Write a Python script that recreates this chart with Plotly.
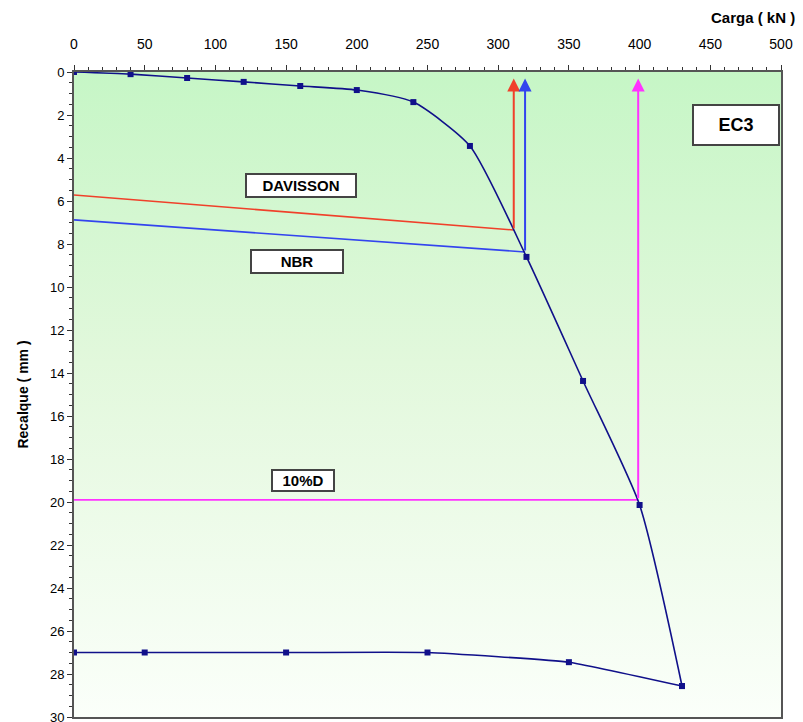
import plotly.graph_objects as go

# Load test data
carga_load = [0, 40, 80, 120, 160, 200, 240, 280, 320, 360, 400, 430]
recalque_load = [0, 0.1, 0.28, 0.46, 0.65, 0.84, 1.4, 3.44, 8.6, 14.37, 20.14, 28.56]
carga_unload = [430, 350, 250, 150, 50, 0]
recalque_unload = [28.56, 27.45, 27.0, 27.0, 27.0, 27.0]

# Criteria lines
davisson_x = [0, 311]
davisson_y = [5.72, 7.35]
nbr_x = [0, 319]
nbr_y = [6.88, 8.37]
d10_x = [0, 399]
d10_y = [19.9, 19.9]
arrow_top = 0.3

x_ticks = list(range(0, 501, 50))
y_ticks = list(range(0, 31, 2))

navy = "#10108a"
red = "#f0402a"
blue = "#3344ee"
magenta = "#ff33ff"

fig = go.Figure()

# gradient background
fig.add_trace(go.Scatter(
    x=[0, 500, 500, 0, 0], y=[0, 0, 30, 30, 0], mode="lines",
    line=dict(width=0), fill="toself", hoverinfo="skip", showlegend=False,
    fillgradient=dict(type="vertical", start=0, stop=30,
                      colorscale=[[0, "#c6f6c6"], [0.45, "#e2f8dc"], [1, "#fbfffa"]]),
))

for xs, ys, c in [(davisson_x, davisson_y, red), (nbr_x, nbr_y, blue), (d10_x, d10_y, magenta)]:
    fig.add_trace(go.Scatter(x=xs, y=ys, mode="lines", line=dict(color=c, width=1.6),
                             showlegend=False, hoverinfo="skip"))

fig.add_trace(go.Scatter(x=carga_load, y=recalque_load, mode="lines+markers",
                         line=dict(color=navy, width=1.6, shape="spline", smoothing=0.6),
                         marker=dict(symbol="square", size=6, color=navy), showlegend=False))
fig.add_trace(go.Scatter(x=carga_unload, y=recalque_unload, mode="lines+markers",
                         line=dict(color=navy, width=1.6, shape="spline", smoothing=0.35),
                         marker=dict(symbol="square", size=6, color=navy), showlegend=False))

# vertical arrows
for xs, ys, c in [(davisson_x, davisson_y, red), (nbr_x, nbr_y, blue), (d10_x, d10_y, magenta)]:
    fig.add_annotation(x=xs[-1], y=arrow_top, ax=xs[-1], ay=ys[-1], xref="x", yref="y",
                       axref="x", ayref="y", showarrow=True, arrowhead=2, arrowsize=1.3,
                       arrowwidth=2, arrowcolor=c, text="")

box = dict(showarrow=False, bgcolor="white", bordercolor="#444444", borderwidth=2,
           xref="x", yref="y", font=dict(family="Liberation Sans", size=15, color="black"))
fig.add_annotation(x=160.5, y=5.3, text="<b>DAVISSON</b>", borderpad=2, width=104, **box)
fig.add_annotation(x=158, y=8.8, text="<b>NBR</b>", borderpad=2, width=86, **box)
fig.add_annotation(x=162, y=19.0, text="<b>10%D</b>", borderpad=1, width=58, **box)
box2 = dict(box)
box2["font"] = dict(family="Liberation Sans", size=18, color="black")
fig.add_annotation(x=468, y=2.45, text="<b>EC3</b>", borderpad=9, width=66, **box2)

fig.add_annotation(x=1, y=1, xref="paper", yref="paper", xanchor="right", yanchor="bottom",
                   xshift=16, yshift=44,
                   text="<b>Carga ( kN )</b>", showarrow=False,
                   font=dict(family="Liberation Sans Narrow, Liberation Sans", size=15, color="black"))

fig.update_layout(
    width=803, height=722,
    margin=dict(l=74, r=22, t=72, b=5, autoexpand=False),
    paper_bgcolor="white", plot_bgcolor="white",
    xaxis=dict(side="top", range=[0, 500], tickvals=x_ticks, showgrid=False, zeroline=False,
               showline=True, linecolor="#555555", linewidth=2, mirror=True,
               ticks="outside", ticklen=5, tickcolor="#333333", ticklabelstandoff=10,
               minor=dict(dtick=10, ticks="outside", ticklen=3, tickcolor="#333333"),
               tickfont=dict(family="Liberation Sans Narrow, Liberation Sans", size=14, color="black")),
    yaxis=dict(range=[30, 0], tickvals=y_ticks, showgrid=False, zeroline=False,
               showline=True, linecolor="#555555", linewidth=2, mirror=True,
               ticks="outside", ticklen=5, tickcolor="#333333", ticklabeloverflow="allow",
               minor=dict(dtick=0.5, ticks="outside", ticklen=3, tickcolor="#333333"),
               title=dict(text="<b>Recalque ( mm )</b>", standoff=18,
                          font=dict(family="Liberation Sans", size=14, color="black")),
               tickfont=dict(family="Liberation Sans", size=13, color="black")),
)

fig.write_html("out.html", config={"displayModeBar": False},
               post_script="document.body.style.margin='0';document.body.style.overflow='hidden';")
